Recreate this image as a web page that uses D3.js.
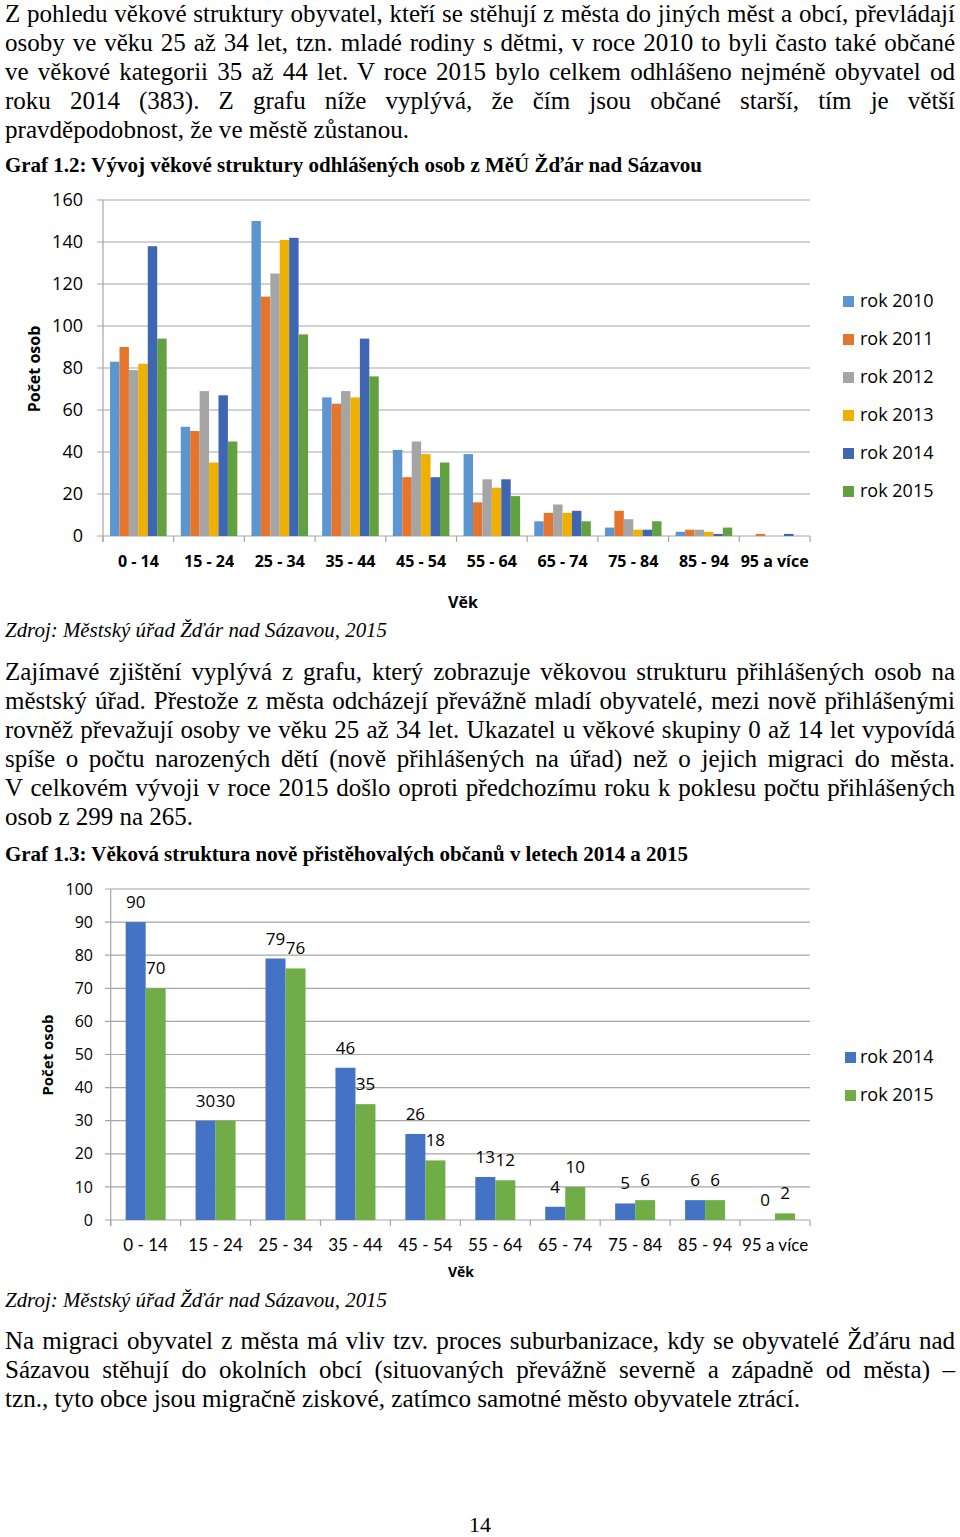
<!DOCTYPE html>
<html><head><meta charset="utf-8">
<script src="https://cdn.jsdelivr.net/npm/d3@7"></script>
<style>
html,body{margin:0;padding:0;background:#fff;}
svg{display:block;}
</style></head>
<body>
<svg id="page" width="960" height="1537"></svg>
<script>
// ---------- DATA ----------
const ageGroups = ["0 - 14","15 - 24","25 - 34","35 - 44","45 - 54","55 - 64","65 - 74","75 - 84","85 - 94","95 a více"];
const years1 = ["rok 2010","rok 2011","rok 2012","rok 2013","rok 2014","rok 2015"];
const v2010 = [83,52,150,66,41,39,7,4,2,0];
const v2011 = [90,50,114,63,28,16,11,12,3,1];
const v2012 = [79,69,125,69,45,27,15,8,3,0];
const v2013 = [82,35,141,66,39,23,11,3,2,0];
const v2014 = [138,67,142,94,28,27,12,3,1,1];
const v2015 = [94,45,96,76,35,19,7,7,4,0];
const yTicks1 = [0,20,40,60,80,100,120,140,160];

const years2 = ["rok 2014","rok 2015"];
const new2014 = [90,30,79,46,26,13,4,5,6,0];
const new2015 = [70,30,76,35,18,12,10,6,6,2];
const yTicks2 = [0,10,20,30,40,50,60,70,80,90,100];

const para1 = [
 "Z pohledu věkové struktury obyvatel, kteří se stěhují z města do jiných měst a obcí, převládají",
 "osoby ve věku 25 až 34 let, tzn. mladé rodiny s dětmi, v roce 2010 to byli často také občané",
 "ve věkové kategorii 35 až 44 let. V roce 2015 bylo celkem odhlášeno nejméně obyvatel od",
 "roku 2014 (383). Z grafu níže vyplývá, že čím jsou občané starší, tím je větší",
 "pravděpodobnost, že ve městě zůstanou."
];
const para2 = [
 "Zajímavé zjištění vyplývá z grafu, který zobrazuje věkovou strukturu přihlášených osob na",
 "městský úřad. Přestože z města odcházejí převážně mladí obyvatelé, mezi nově přihlášenými",
 "rovněž převažují osoby ve věku 25 až 34 let. Ukazatel u věkové skupiny 0 až 14 let vypovídá",
 "spíše o počtu narozených dětí (nově přihlášených na úřad) než o jejich migraci do města.",
 "V celkovém vývoji v roce 2015 došlo oproti předchozímu roku k poklesu počtu přihlášených",
 "osob z 299 na 265."
];
const para3 = [
 "Na migraci obyvatel z města má vliv tzv. proces suburbanizace, kdy se obyvatelé Žďáru nad",
 "Sázavou stěhují do okolních obcí (situovaných převážně severně a západně od města) –",
 "tzn., tyto obce jsou migračně ziskové, zatímco samotné město obyvatele ztrácí."
];
const caption1 = "Graf 1.2: Vývoj věkové struktury odhlášených osob z MěÚ Žďár nad Sázavou";
const caption2 = "Graf 1.3: Věková struktura nově přistěhovalých občanů v letech 2014 a 2015";
const sourceText = "Zdroj: Městský úřad Žďár nad Sázavou, 2015";

// ---------- STYLE ----------
const colors1 = ["#5B96D0","#E5742D","#A5A5A5","#EFB000","#3F66B2","#62A040"];
const colors2 = ["#4472C4","#70AD47"];
const grid = "#A6A6A6";
const serif = "'Liberation Serif','Times New Roman',serif";
const sans = "'Open Sans','Noto Sans',sans-serif";

const svg = d3.select("#page");

// ---------- TEXT HELPERS ----------
const BODY = 25;
function bodyLine(txt, y, justify, endX){
  const t = svg.append("text").attr("x",5).attr("y",y)
    .style("font-family",serif).style("font-size",BODY+"px").attr("fill","#000").text(txt);
  const w = t.node().getComputedTextLength();
  const gaps = (txt.match(/ /g)||[]).length;
  if(justify && gaps>0){
    t.style("word-spacing", ((950 - w)/gaps) + "px");
  } else if(endX){
    t.attr("textLength", endX-5).attr("lengthAdjust","spacingAndGlyphs");
  }
}
function paragraph(lines, y0, ends){
  lines.forEach((l,i)=>{
    const last = i===lines.length-1;
    bodyLine(l, y0 + i*28.9, !last, last ? ends : null);
  });
}
function fitted(txt, y, endX, size, weight, style){
  svg.append("text").attr("x",5).attr("y",y)
    .style("font-family",serif).style("font-size",size+"px")
    .style("font-weight",weight).style("font-style",style)
    .attr("textLength",endX-5).attr("lengthAdjust","spacingAndGlyphs").text(txt);
}

paragraph(para1, 22, 409);
fitted(caption1, 172, 702, 21, "bold", "normal");
fitted(sourceText, 637, 387, 21, "normal", "italic");
paragraph(para2, 680, 193);
fitted(caption2, 861, 688, 21, "bold", "normal");
fitted(sourceText, 1307, 387, 21, "normal", "italic");
paragraph(para3, 1349, 800);
svg.append("text").attr("x",480).attr("y",1532).attr("text-anchor","middle")
  .style("font-family",serif).style("font-size","22px").text("14");

// ---------- CHART 1 ----------
(function(){
  const series = [v2010,v2011,v2012,v2013,v2014,v2015];
  const x0 = d3.scaleBand().domain(ageGroups).range([103,810]).paddingInner(0.2).paddingOuter(0.1);
  const x1 = d3.scaleBand().domain(years1).range([0,x0.bandwidth()]);
  const y = d3.scaleLinear().domain([0,160]).range([536,200]);
  const g = svg.append("g");
  g.selectAll("line.grid").data(yTicks1).join("line")
    .attr("x1",97).attr("x2",810).attr("y1",d=>y(d)).attr("y2",d=>y(d))
    .attr("stroke",grid).attr("stroke-width",1.2);
  g.append("line").attr("x1",103).attr("x2",103).attr("y1",y(160)).attr("y2",y(0)+6)
    .attr("stroke",grid).attr("stroke-width",1.2);
  const step = x0.step();
  g.selectAll("line.xt").data(d3.range(ageGroups.length+1)).join("line")
    .attr("x1",i=>x0.range()[0]+i*step).attr("x2",i=>x0.range()[0]+i*step)
    .attr("y1",y(0)).attr("y2",y(0)+6).attr("stroke",grid).attr("stroke-width",1.2);
  g.selectAll("text.yl").data(yTicks1).join("text")
    .attr("x",83).attr("y",d=>y(d)).attr("dy","0.35em").attr("text-anchor","end")
    .style("font-family",sans).style("font-size","18px").attr("fill","#000").text(d=>d);
  const grp = g.selectAll("g.cat").data(ageGroups).join("g")
    .attr("transform",d=>`translate(${x0(d)},0)`);
  grp.selectAll("rect").data((d,i)=>years1.map((yr,k)=>({yr,k,v:series[k][i]}))).join("rect")
    .attr("x",d=>x1(d.yr)).attr("width",x1.bandwidth())
    .attr("y",d=>y(d.v)).attr("height",d=>y(0)-y(d.v))
    .attr("fill",d=>colors1[d.k]);
  g.selectAll("text.xl").data(ageGroups).join("text")
    .attr("x",d=>x0(d)+x0.bandwidth()/2).attr("y",567).attr("text-anchor","middle")
    .style("font-family",sans).style("font-size","16px").style("font-weight","bold").text(d=>d);
  g.append("text").attr("x",463).attr("y",608).attr("text-anchor","middle")
    .style("font-family",sans).style("font-size","16px").style("font-weight","bold").text("Věk");
  g.append("text").attr("transform","translate(40,369) rotate(-90)").attr("text-anchor","middle")
    .style("font-family",sans).style("font-size","16px").style("font-weight","bold").text("Počet osob");
  const lg = g.selectAll("g.lg").data(years1).join("g")
    .attr("transform",(d,i)=>`translate(843,${301+i*38})`);
  lg.append("rect").attr("x",0).attr("y",-5).attr("width",11).attr("height",11).attr("fill",(d,i)=>colors1[i]);
  lg.append("text").attr("x",17).attr("y",0).attr("dy","0.35em")
    .style("font-family",sans).style("font-size","18px").text(d=>d);
})();

// ---------- CHART 2 ----------
(function(){
  const series = [new2014,new2015];
  const x0 = d3.scaleBand().domain(ageGroups).range([110.7,810]).paddingInner(0.428).paddingOuter(0.214);
  const x1 = d3.scaleBand().domain(years2).range([0,x0.bandwidth()]);
  const y = d3.scaleLinear().domain([0,100]).range([1220,889]);
  const g = svg.append("g");
  g.selectAll("line.grid").data(yTicks2).join("line")
    .attr("x1",105).attr("x2",810).attr("y1",d=>y(d)).attr("y2",d=>y(d))
    .attr("stroke",grid).attr("stroke-width",1.2);
  g.append("line").attr("x1",110.7).attr("x2",110.7).attr("y1",y(100)).attr("y2",y(0)+6)
    .attr("stroke",grid).attr("stroke-width",1.2);
  const step = x0.step();
  g.selectAll("line.xt").data(d3.range(ageGroups.length+1)).join("line")
    .attr("x1",i=>x0.range()[0]+i*step).attr("x2",i=>x0.range()[0]+i*step)
    .attr("y1",y(0)).attr("y2",y(0)+6).attr("stroke",grid).attr("stroke-width",1.2);
  g.selectAll("text.yl").data(yTicks2).join("text")
    .attr("x",93).attr("y",d=>y(d)).attr("dy","0.35em").attr("text-anchor","end")
    .style("font-family",sans).style("font-size","16px").text(d=>d);
  const grp = g.selectAll("g.cat").data(ageGroups).join("g")
    .attr("transform",d=>`translate(${x0(d)},0)`);
  const items = (d,i)=>years2.map((yr,k)=>({yr,k,v:series[k][i]}));
  grp.selectAll("rect").data(items).join("rect")
    .attr("x",d=>x1(d.yr)).attr("width",x1.bandwidth())
    .attr("y",d=>y(d.v)).attr("height",d=>y(0)-y(d.v))
    .attr("fill",d=>colors2[d.k]);
  grp.selectAll("text").data(items).join("text")
    .attr("x",d=>x1(d.yr)+x1.bandwidth()/2).attr("y",d=>y(d.v)-14).attr("text-anchor","middle")
    .style("font-family",sans).style("font-size","17px").text(d=>d.v);
  g.selectAll("text.xl").data(ageGroups).join("text")
    .attr("x",d=>x0(d)+x0.bandwidth()/2).attr("y",1251).attr("text-anchor","middle")
    .style("font-family","Lato,'Open Sans',sans-serif").style("font-size","17px").text(d=>d);
  g.append("text").attr("x",461).attr("y",1277).attr("text-anchor","middle")
    .style("font-family",sans).style("font-size","14px").style("font-weight","bold").text("Věk");
  g.append("text").attr("transform","translate(53,1055) rotate(-90)").attr("text-anchor","middle")
    .style("font-family",sans).style("font-size","15px").style("font-weight","bold").text("Počet osob");
  const lg = g.selectAll("g.lg").data(years2).join("g")
    .attr("transform",(d,i)=>`translate(845,${1057+i*38})`);
  lg.append("rect").attr("x",0).attr("y",-5).attr("width",11).attr("height",11).attr("fill",(d,i)=>colors2[i]);
  lg.append("text").attr("x",15).attr("y",0).attr("dy","0.35em")
    .style("font-family",sans).style("font-size","18px").text(d=>d);
})();
</script>
</body></html>
